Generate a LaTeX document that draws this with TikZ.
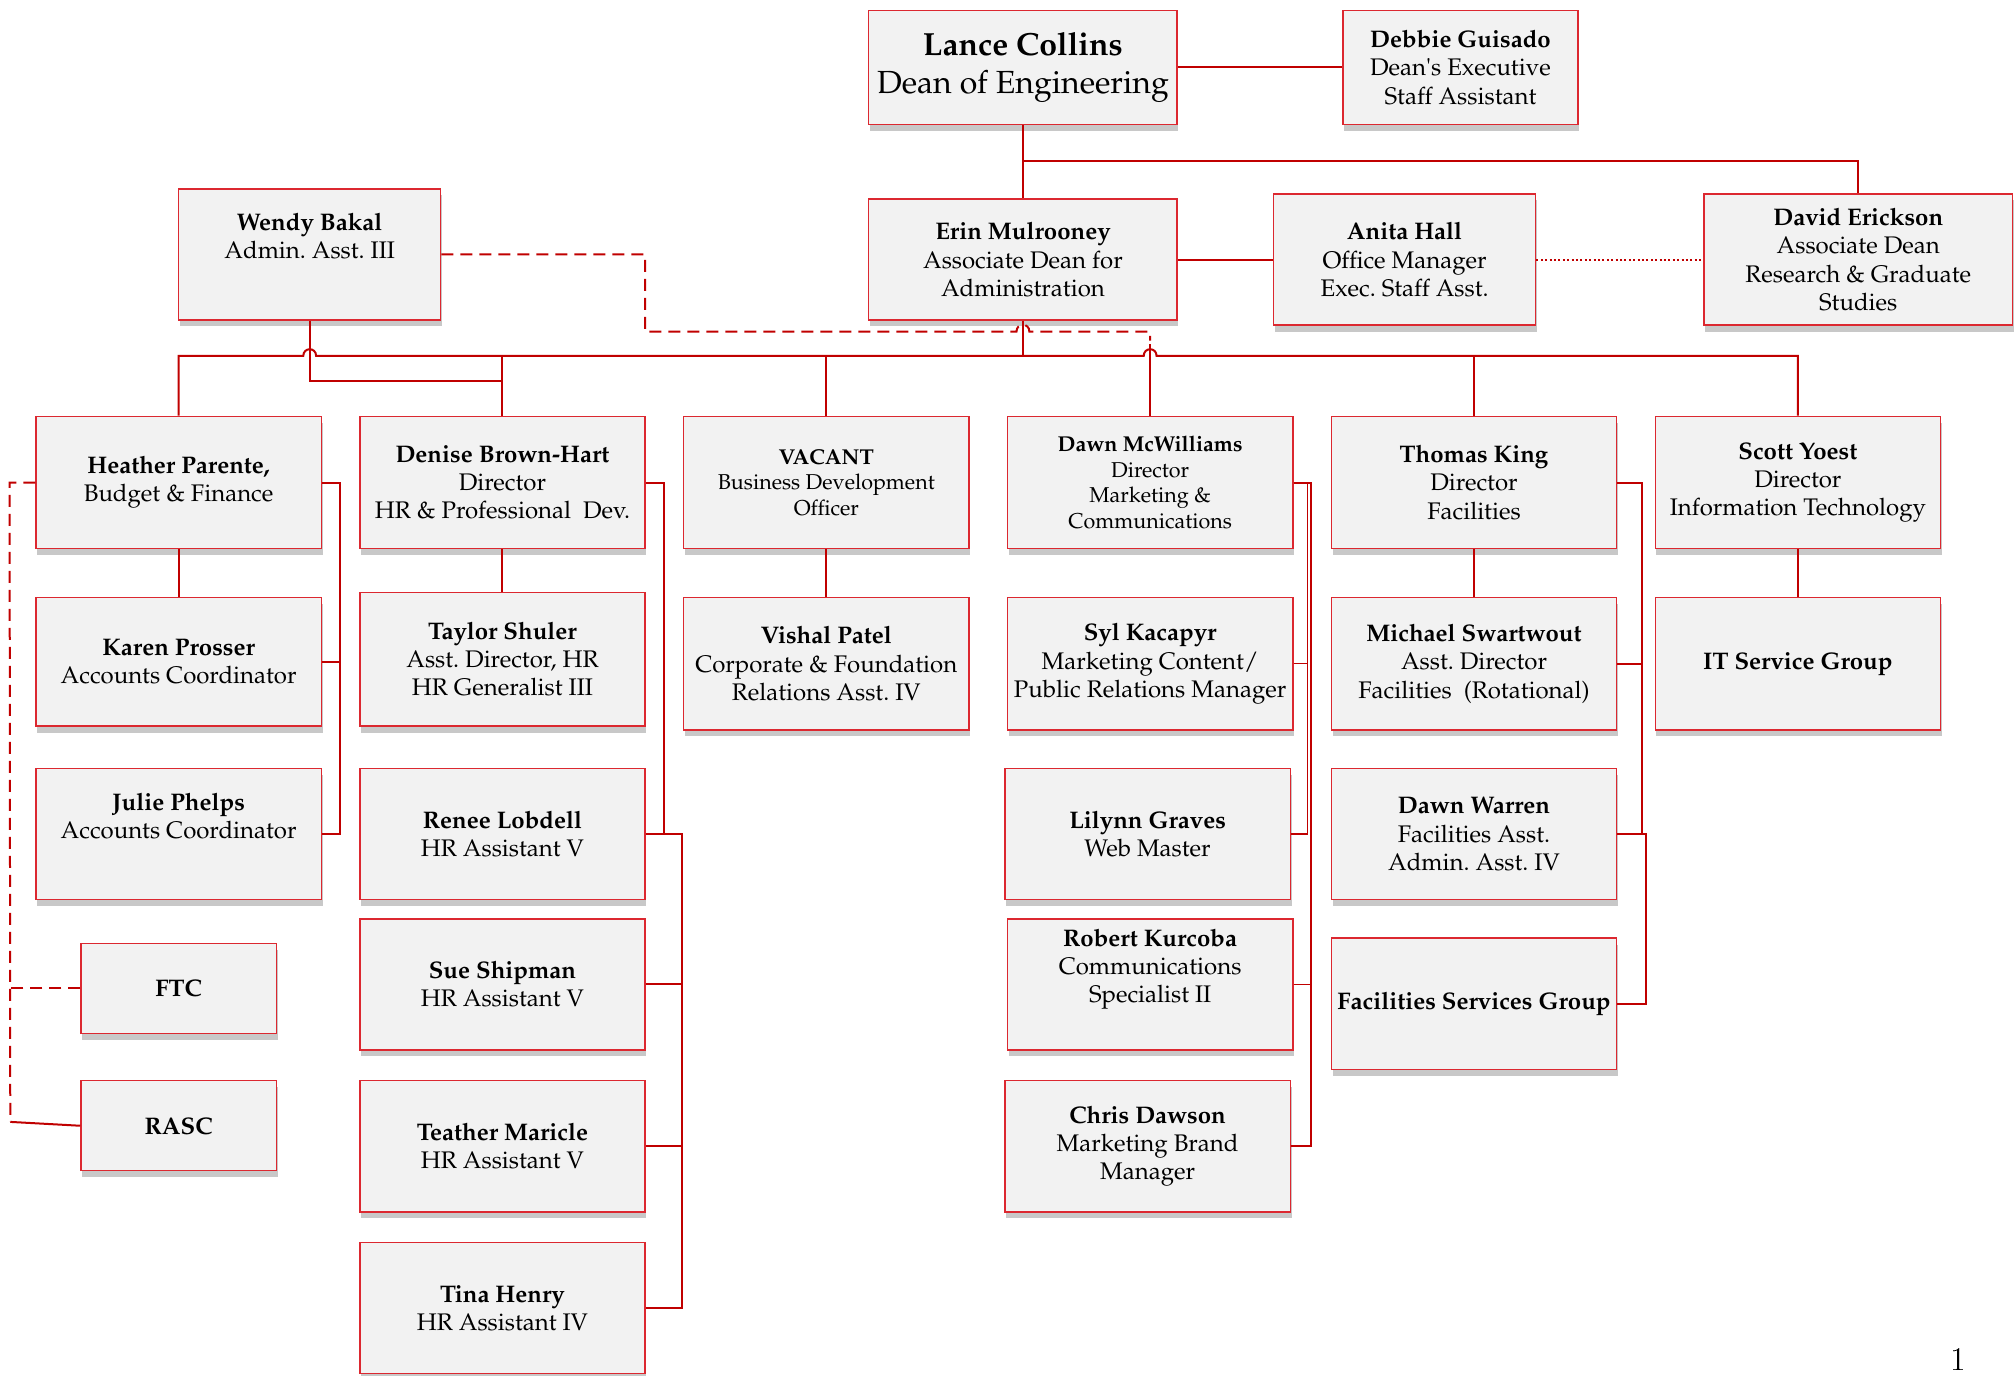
\documentclass[tikz,border=0pt]{standalone}
\usepackage[T1]{fontenc}
\usepackage{mathpazo}
\usetikzlibrary{calc}
\definecolor{linered}{HTML}{C00000}
\definecolor{boxred}{HTML}{DC2830}
\definecolor{boxfill}{HTML}{F2F2F2}
\definecolor{shadowgray}{HTML}{C8C8C8}
\newcommand\regf{\fontsize{12}{14.1}\selectfont}
\newcommand\smallf{\fontsize{10.75}{12.7}\selectfont}
\newcommand\bigf{\fontsize{16}{18.6}\selectfont}
\tikzset{
  orgbox/.style={draw=boxred, fill=boxfill, line width=0.7pt, align=center, inner sep=0pt, font=\regf},
  conn/.style={draw=linered, line width=1pt},
  thinconn/.style={draw=linered, line width=0.7pt},
  dashconn/.style={draw=linered, line width=1pt, dash pattern=on 6pt off 3.5pt},
  dotconn/.style={draw=linered, line width=1pt, dash pattern=on 1pt off 1.2pt},
}
% name, left, top, right, bottom, options, text
\newcommand\obox[7]{%
  \fill[shadowgray] (#2+1,#3+5) rectangle (#4+1,#5+5);
  \pgfmathsetmacro\bw{(#4-#2)*0.6426}%
  \pgfmathsetmacro\bh{(#5-#3)*0.6426}%
  \node[orgbox, minimum width=\bw pt, minimum height=\bh pt, #6] (#1) at ({(#2+#4)/2},{(#3+#5)/2}) {#7};
}
\begin{document}
\begin{tikzpicture}[x=0.6426pt, y=-0.6426pt]
\useasboundingbox (0,0) rectangle (1568,1070);
\coordinate (bus) at (0,277);
% boxes
\obox{lance}{676}{8}{916}{97}{font=\bigf}{\textbf{Lance Collins}\\Dean of Engineering}
\obox{debbie}{1045}{8}{1228}{97}{}{\textbf{Debbie Guisado}\\Dean\textquotesingle s Executive\\Staff Assistant}
\obox{wendy}{139}{147}{343}{249}{}{\textbf{Wendy Bakal}\\Admin.\ Asst.\ III\\\strut}
\obox{erin}{676}{155}{916}{249}{}{\textbf{Erin Mulrooney}\\Associate Dean for\\Administration}
\obox{anita}{991}{151}{1195}{253}{}{\textbf{Anita Hall}\\Office Manager\\Exec.\ Staff Asst.}
\obox{david}{1326}{151}{1566}{253}{}{\textbf{David Erickson}\\Associate Dean\\Research \& Graduate\\Studies}
% row 2
\obox{heather}{28}{324}{250}{427}{}{\textbf{Heather Parente,}\\Budget \& Finance}
\obox{denise}{280}{324}{502}{427}{}{\textbf{Denise Brown-Hart}\\Director\\HR \& Professional\ \ Dev.}
\obox{vacant}{532}{324}{754}{427}{font=\smallf}{\textbf{VACANT}\\Business Development\\Officer}
\obox{dawn}{784}{324}{1006}{427}{font=\smallf}{\textbf{Dawn McWilliams}\\Director\\Marketing \&\\Communications}
\obox{thomas}{1036}{324}{1258}{427}{}{\textbf{Thomas King}\\Director\\Facilities}
\obox{scott}{1288}{324}{1510}{427}{}{\textbf{Scott Yoest}\\Director\\Information Technology}
% row 3
\obox{karen}{28}{465}{250}{565}{}{\textbf{Karen Prosser}\\Accounts Coordinator}
\obox{taylor}{280}{461}{502}{565}{}{\textbf{Taylor Shuler}\\Asst.\ Director, HR\\HR Generalist III}
\obox{vishal}{532}{465}{754}{568}{}{\textbf{Vishal Patel}\\Corporate \& Foundation\\Relations Asst.\ IV}
\obox{syl}{784}{465}{1006}{568}{}{\textbf{Syl Kacapyr}\\Marketing Content/\\Public Relations Manager}
\obox{michael}{1036}{465}{1258}{568}{}{\textbf{Michael Swartwout}\\Asst.\ Director\\Facilities\ \ (Rotational)}
\obox{itsg}{1288}{465}{1510}{568}{}{\textbf{IT Service Group}}
% row 4
\obox{julie}{28}{598}{250}{700}{}{\textbf{Julie Phelps}\\Accounts Coordinator\\\strut}
\obox{renee}{280}{598}{502}{700}{}{\textbf{Renee Lobdell}\\HR Assistant V}
\obox{lilynn}{782}{598}{1004}{700}{}{\textbf{Lilynn Graves}\\Web Master}
\obox{dwarren}{1036}{598}{1258}{700}{}{\textbf{Dawn Warren}\\Facilities Asst.\\Admin.\ Asst.\ IV}
% row 5
\obox{ftc}{63}{734}{215}{804}{}{\textbf{FTC}}
\obox{sue}{280}{715}{502}{817}{}{\textbf{Sue Shipman}\\HR Assistant V}
\obox{robert}{784}{715}{1006}{817}{}{\textbf{Robert Kurcoba}\\Communications\\Specialist II\\\strut}
\obox{fsg}{1036}{730}{1258}{832}{}{\textbf{Facilities Services Group}}
% row 6
\obox{rasc}{63}{841}{215}{911}{}{\textbf{RASC}}
\obox{teather}{280}{841}{502}{943}{}{\textbf{Teather Maricle}\\HR Assistant V}
\obox{chris}{782}{841}{1004}{943}{}{\textbf{Chris Dawson}\\Marketing Brand\\Manager}
% row 7
\obox{tina}{280}{967}{502}{1069}{}{\textbf{Tina Henry}\\HR Assistant IV}
\node[font=\fontsize{16}{18}\sffamily\selectfont] (pagenum) at (1524,1058) {1};
% top connectors
\draw[conn] (lance.east) -- (debbie.west);
\draw[conn] (lance.south) -- (erin.north);
\draw[conn] (796,125) -| (david.north);
\draw[conn] (erin.east) -- (anita.west);
\draw[dotconn] (anita.east) -- (david.west);
% bus with hops
\draw[conn] (heather.north) |- (236,277) .. controls (236,270) and (246,270) .. (246,277) -- (890,277) .. controls (890,270) and (900,270) .. (900,277) -| (scott.north);
\draw[conn] (erin.south) -- (erin.south |- bus);
\draw[conn] (denise.north) -- (denise.north |- bus);
\draw[conn] (vacant.north) -- (vacant.north |- bus);
\draw[conn] (thomas.north) -- (thomas.north |- bus);
\draw[conn] (dawn.north) -- (895,268);
% Wendy
\draw[conn] (wendy.south) -- ++(0,47) -| (denise.north);
\draw[dashconn] (wendy.east) -- (502,198) -- (502,258) -- (791,258) .. controls (791,251) and (801,251) .. (801,258) -- (895,258) -- (895,265);
% vertical pairs
\draw[conn] (heather.south) -- (karen.north);
\draw[conn] (denise.south) -- (taylor.north);
\draw[conn] (vacant.south) -- (vishal.north);
\draw[conn] (thomas.south) -- (michael.north);
\draw[conn] (scott.south) -- (itsg.north);
% Heather brackets
\draw[conn] (heather.east) -- ++(14,0) |- (julie.east);
\draw[conn] (karen.east) -- ++(14,0);
\draw[dashconn] (heather.west) -- ++(-20,0) -- (8,873);
\draw[dashconn] (ftc.west) -- ++(-55,0);
\draw[conn] (rasc.west) -- (8,873);
% Denise brackets
\draw[conn] (denise.east) -- ++(14,0) |- (renee.east);
\draw[conn] (renee.east) -- ++(28,0) |- (tina.east);
\draw[conn] (sue.east) -- ++(28,0);
\draw[conn] (teather.east) -- ++(28,0);
% Dawn brackets
\draw[conn] (dawn.east) -- ++(14,0) |- (chris.east);
\draw[thinconn] (dawn.east) -- ++(11,0) |- (lilynn.east);
\draw[thinconn] (syl.east) -- ++(11,0);
\draw[thinconn] (robert.east) -- ++(14,0);
% Thomas brackets
\draw[conn] (thomas.east) -- ++(19,0) |- (dwarren.east);
\draw[conn] (michael.east) -- ++(19,0);
\draw[conn] (dwarren.east) -- ++(22,0) |- (fsg.east);
\end{tikzpicture}
\end{document}
